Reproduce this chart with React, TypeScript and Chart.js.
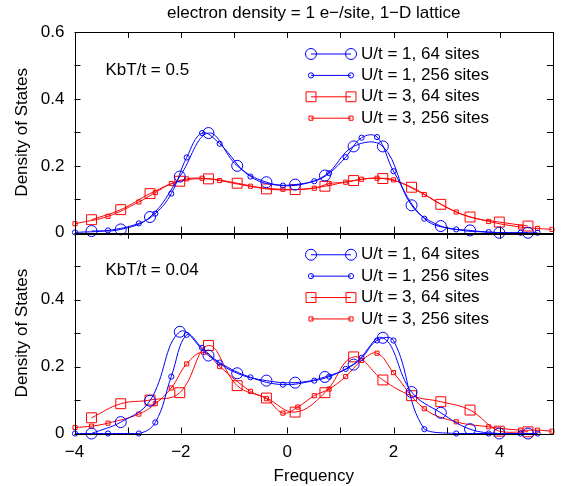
import React, { useEffect, useRef } from 'react';
import { Chart, registerables } from 'chart.js';

Chart.register(...registerables);

const FONT_FAMILY = '"Liberation Sans", Arial, Helvetica, sans-serif';
const FONT_SIZE = 17;

const CHART_TITLE = 'electron density = 1 e−/site, 1−D lattice';
const X_TITLE = 'Frequency';
const Y_TITLE = 'Density of States';
const PANEL_LABELS = ['KbT/t = 0.5', 'KbT/t = 0.04'];
const SERIES_LABELS = ['U/t = 1, 64 sites', 'U/t = 1, 256 sites', 'U/t = 3, 64 sites', 'U/t = 3, 256 sites'];
const X_TICK_LABELS = [-4, -2, 0, 2, 4];
const Y_TICK_LABELS_TOP = [0, 0.2, 0.4, 0.6];
const Y_TICK_LABELS_BOTTOM = [0, 0.2, 0.4];

// frequencies of the 64-site points
const freq64 = [-3.68, -3.13, -2.58, -2.02, -1.48, -0.94, -0.39, 0.15, 0.71, 1.25, 1.8, 2.34, 2.89, 3.44, 3.99, 4.53];
// frequencies of the 256-site points
const freq256Blue = [-3.99, -3.37, -2.79, -2.48, -2.18, -1.89, -1.6, -1.27, -0.69, -0.08, 0.51, 0.79, 1.1, 1.4, 1.69, 2.0, 2.58, 3.18, 3.79, 4.39, 4.71];
const freq256RedTop = [-3.99, -3.37, -2.79, -2.48, -2.18, -1.89, -1.6, -1.27, -0.69, -0.08, 0.51, 0.79, 1.1, 1.4, 1.69, 2.0, 2.58, 3.18, 3.79, 4.39, 4.71, 4.98];
const freq256RedBottom = [-3.99, -3.68, -3.37, -2.79, -2.48, -2.18, -1.89, -1.57, -1.27, -0.69, -0.39, -0.08, 0.2, 0.51, 0.79, 1.1, 1.4, 1.69, 2.0, 2.58, 3.18, 3.79, 4.39, 4.71, 4.98];

// KbT/t = 0.5 (top panel)
const topU1s64 = [0.005, 0.01, 0.047, 0.168, 0.298, 0.2, 0.151, 0.144, 0.171, 0.258, 0.258, 0.082, 0.02, 0.007, 0, 0];
const topU1s256 = [0.001, 0.007, 0.028, 0.057, 0.117, 0.225, 0.298, 0.266, 0.168, 0.141, 0.154, 0.178, 0.226, 0.284, 0.286, 0.184, 0.042, 0.01, 0.002, 0, 0];
const topU3s64 = [0.039, 0.069, 0.117, 0.154, 0.161, 0.148, 0.131, 0.129, 0.139, 0.156, 0.162, 0.136, 0.085, 0.047, 0.032, 0.02];
const topU3s256 = [0.027, 0.049, 0.092, 0.12, 0.147, 0.161, 0.163, 0.156, 0.139, 0.13, 0.133, 0.147, 0.151, 0.16, 0.163, 0.158, 0.114, 0.062, 0.034, 0.017, 0.013, 0.01];

// KbT/t = 0.04 (bottom panel)
const botU1s64 = [0, 0.034, 0.098, 0.304, 0.233, 0.18, 0.158, 0.152, 0.169, 0.206, 0.286, 0.124, 0.062, 0.013, 0, 0];
const botU1s256 = [0, 0, 0, 0.033, 0.17, 0.295, 0.256, 0.212, 0.168, 0.146, 0.158, 0.17, 0.193, 0.226, 0.278, 0.278, 0.013, 0, 0, 0, 0];
const botU3s64 = [0.047, 0.089, 0.1, 0.122, 0.263, 0.143, 0.106, 0.064, 0.122, 0.229, 0.16, 0.113, 0.095, 0.07, 0.007, 0.005];
const botU3s256 = [0.018, 0.022, 0.031, 0.058, 0.089, 0.136, 0.208, 0.243, 0.2, 0.126, 0.104, 0.061, 0.079, 0.113, 0.133, 0.17, 0.218, 0.24, 0.182, 0.074, 0.035, 0.02, 0.01, 0.01, 0.007];

const BLUE = 'rgb(0,0,255)';
const RED = 'rgb(255,0,0)';

const font = (size = FONT_SIZE) => `${size}px ${FONT_FAMILY}`;
const fmtNum = (v: number) => (v < 0 ? '−' + Math.abs(v) : String(v));

type Style = { color: string; shape: 'circle' | 'rect'; radius: number };
const STYLES: Style[] = [
  { color: BLUE, shape: 'circle', radius: 5.5 },
  { color: BLUE, shape: 'circle', radius: 2.6 },
  { color: RED, shape: 'rect', radius: 7 },
  { color: RED, shape: 'rect', radius: 2.9 },
];

const pts = (xs: number[], ys: number[]) => xs.map((x, i) => ({ x, y: ys[i] }));

function makeDataset(label: string, data: { x: number; y: number }[], style: Style, axis: string) {
  return {
    label,
    data,
    yAxisID: axis,
    borderColor: style.color,
    backgroundColor: 'rgba(0,0,0,0)',
    borderWidth: 1,
    pointStyle: style.shape,
    pointRadius: style.radius,
    pointBorderWidth: 1,
    pointBorderColor: style.color,
    pointBackgroundColor: 'rgba(0,0,0,0)',
    tension: 0.4,
    fill: false,
    clip: false as any,
  };
}

function drawMarker(ctx: CanvasRenderingContext2D, x: number, y: number, s: Style) {
  ctx.save();
  ctx.strokeStyle = s.color;
  ctx.lineWidth = 1;
  ctx.beginPath();
  if (s.shape === 'circle') {
    ctx.arc(x, y, s.radius, 0, Math.PI * 2);
  } else {
    const h = s.radius * Math.SQRT1_2;
    ctx.rect(x - h, y - h, 2 * h, 2 * h);
  }
  ctx.stroke();
  ctx.restore();
}

const decorPlugin = {
  id: 'decor',
  afterDraw(chart: any) {
    const ctx: CanvasRenderingContext2D = chart.ctx;
    const xs = chart.scales.x;
    const panels = [chart.scales.yTop, chart.scales.yBot];
    const left = xs.left;
    const right = xs.right;
    ctx.save();
    ctx.strokeStyle = '#000';
    ctx.lineWidth = 1;
    const TL = 6;
    panels.forEach((ys: any, pi: number) => {
      const top = ys.getPixelForValue(0.6);
      const bottom = ys.getPixelForValue(0);
      // frame
      ctx.beginPath();
      ctx.rect(Math.round(left) + 0.5, Math.round(top) + 0.5, Math.round(right) - Math.round(left), Math.round(bottom) - Math.round(top));
      ctx.stroke();
      // x ticks (inward, top & bottom)
      ctx.beginPath();
      for (let v = -4; v <= 5; v++) {
        const px = Math.round(xs.getPixelForValue(v)) + 0.5;
        ctx.moveTo(px, bottom);
        ctx.lineTo(px, bottom - TL);
        ctx.moveTo(px, top);
        ctx.lineTo(px, top + TL);
      }
      // y ticks (inward, left & right)
      for (let k = 0; k <= 6; k++) {
        const py = Math.round(ys.getPixelForValue(k / 10)) + 0.5;
        ctx.moveTo(left, py);
        ctx.lineTo(left + TL, py);
        ctx.moveTo(right, py);
        ctx.lineTo(right - TL, py);
      }
      ctx.stroke();

      // panel label
      ctx.fillStyle = '#000';
      ctx.font = font();
      ctx.textAlign = 'left';
      ctx.textBaseline = 'middle';
      ctx.fillText(PANEL_LABELS[pi], left + 31, top + 38);

      // legend
      const lx0 = right - 242;
      const lx1 = right - 202;
      SERIES_LABELS.forEach((lab, i) => {
        const y = top + 22 + i * 21.4;
        const s = STYLES[i];
        ctx.save();
        ctx.strokeStyle = s.color;
        ctx.beginPath();
        ctx.moveTo(lx0, y);
        ctx.lineTo(lx1, y);
        ctx.stroke();
        ctx.restore();
        drawMarker(ctx, lx0, y, s);
        drawMarker(ctx, lx1, y, s);
        ctx.fillStyle = '#000';
        ctx.font = font();
        ctx.textAlign = 'left';
        ctx.textBaseline = 'middle';
        ctx.fillText(lab, right - 192, y);
      });

      // y title
      ctx.save();
      ctx.translate(22, (top + bottom) / 2);
      ctx.rotate(-Math.PI / 2);
      ctx.textAlign = 'center';
      ctx.textBaseline = 'middle';
      ctx.font = font();
      ctx.fillText(Y_TITLE, 0, 0);
      ctx.restore();
    });

    // heavier line where the two panels meet
    const sep = Math.round(chart.scales.yTop.getPixelForValue(0));
    ctx.fillStyle = '#000';
    ctx.fillRect(Math.round(left), sep, Math.round(right) - Math.round(left) + 1, 2);

    ctx.font = font();
    ctx.textAlign = 'center';
    ctx.textBaseline = 'middle';
    ctx.fillText(CHART_TITLE, (left + right) / 2, 13);
    ctx.fillText(X_TITLE, (left + right) / 2, 476);
    ctx.restore();
  },
};

export default function App() {
  const ref = useRef<HTMLCanvasElement>(null);
  useEffect(() => {
    if (!ref.current) return;
    const tickFont = { family: FONT_FAMILY, size: FONT_SIZE };
    const chart = new Chart(ref.current, {
      type: 'line',
      data: {
        datasets: [
          makeDataset(SERIES_LABELS[0], pts(freq64, topU1s64), STYLES[0], 'yTop'),
          makeDataset(SERIES_LABELS[1], pts(freq256Blue, topU1s256), STYLES[1], 'yTop'),
          makeDataset(SERIES_LABELS[2], pts(freq64, topU3s64), STYLES[2], 'yTop'),
          makeDataset(SERIES_LABELS[3], pts(freq256RedTop, topU3s256), STYLES[3], 'yTop'),
          makeDataset(SERIES_LABELS[0], pts(freq64, botU1s64), STYLES[0], 'yBot'),
          makeDataset(SERIES_LABELS[1], pts(freq256Blue, botU1s256), STYLES[1], 'yBot'),
          makeDataset(SERIES_LABELS[2], pts(freq64, botU3s64), STYLES[2], 'yBot'),
          makeDataset(SERIES_LABELS[3], pts(freq256RedBottom, botU3s256), STYLES[3], 'yBot'),
        ] as any,
      },
      options: {
        animation: false,
        responsive: true,
        maintainAspectRatio: false,
        layout: { padding: { top: 32, right: 1.5, left: 0, bottom: 0 } },
        plugins: { legend: { display: false }, tooltip: { enabled: false }, title: { display: false } },
        scales: {
          x: {
            type: 'linear',
            min: -4,
            max: 5,
            grid: { display: false, drawTicks: false },
            border: { display: false },
            ticks: {
              stepSize: 1,
              autoSkip: false,
              maxRotation: 0,
              padding: 9,
              color: '#000',
              font: tickFont,
              callback: (v: any) => (X_TICK_LABELS.includes(Number(v)) ? fmtNum(Number(v)) : ''),
            },
            afterFit: (s: any) => {
              s.height = 52.5;
            },
          },
          yTop: {
            type: 'linear',
            position: 'left',
            stack: 'panels',
            stackWeight: 1,
            weight: 2,
            min: 0,
            max: 0.6,
            grid: { display: false, drawTicks: false },
            border: { display: false },
            ticks: {
              stepSize: 0.1,
              autoSkip: false,
              padding: 10,
              color: '#000',
              font: tickFont,
              callback: (v: any) => {
                const n = Math.round(Number(v) * 10) / 10;
                return Y_TICK_LABELS_TOP.some((t) => Math.abs(t - n) < 1e-6) ? String(n) : '';
              },
            },
            afterFit: (s: any) => {
              s.width = 74.5;
            },
          },
          yBot: {
            type: 'linear',
            position: 'left',
            stack: 'panels',
            stackWeight: 1,
            weight: 1,
            min: 0,
            max: 0.6,
            grid: { display: false, drawTicks: false },
            border: { display: false },
            ticks: {
              stepSize: 0.1,
              autoSkip: false,
              padding: 10,
              color: '#000',
              font: tickFont,
              callback: (v: any) => {
                const n = Math.round(Number(v) * 10) / 10;
                return Y_TICK_LABELS_BOTTOM.some((t) => Math.abs(t - n) < 1e-6) ? String(n) : '';
              },
            },
            afterFit: (s: any) => {
              s.width = 74.5;
            },
          },
        } as any,
      },
      plugins: [decorPlugin],
    });
    return () => chart.destroy();
  }, []);

  return (
    <div style={{ position: 'fixed', left: 0, top: 0, width: 562, height: 486, background: '#fff' }}>
      <canvas ref={ref} />
    </div>
  );
}
